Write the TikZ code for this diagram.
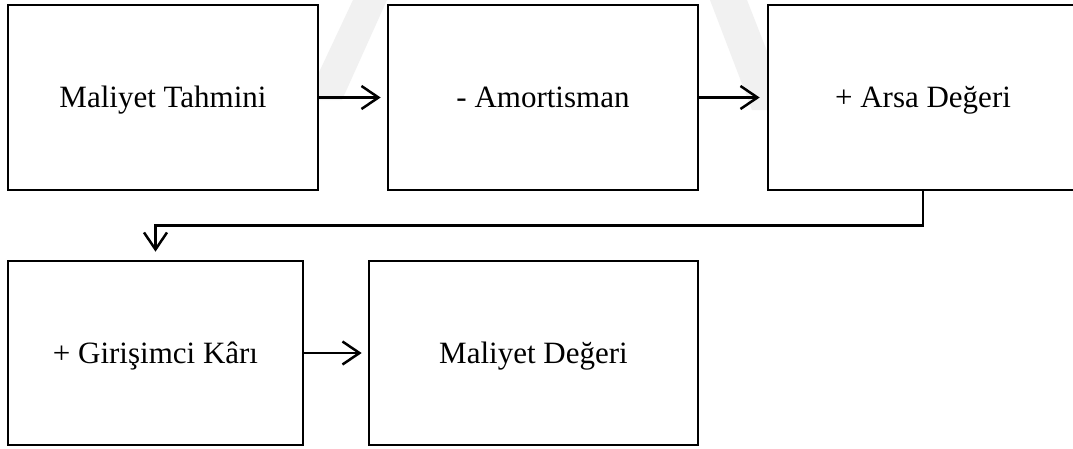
\documentclass[tikz,border=0pt]{standalone}
\usepackage{fontspec}
\setmainfont{Liberation Serif}
\usetikzlibrary{arrows.meta}

\definecolor{wmark}{HTML}{F1F1F1}

\tikzset{
  stepbox/.style={draw=black, fill=white, line width=2.6pt, rectangle,
    inner sep=0pt, text height=20pt, text depth=0pt,
    font=\fontsize{31}{37}\selectfont},
  flow/.style={draw=black, line width=2.5pt,
    -{Straight Barb[length=17pt, width=23pt, line width=2.5pt]}},
}

\begin{document}
\begin{tikzpicture}[x=1pt, y=-1pt]
  \useasboundingbox (0,0) rectangle (1073,448);
  \clip (0,0) rectangle (1073,448);
  \fill[white] (0,0) rectangle (1073,448);

  % faint background emblem strokes
  \fill[wmark] (353,0) -- (387,0) -- (342,100) -- (306,100) -- cycle;
  \fill[wmark] (710,0) -- (747,0) -- (790,110) -- (752,110) -- cycle;

  % process steps
  \node[stepbox, minimum width=310pt, minimum height=185pt] (b1) at (163,97.5) {Maliyet Tahmini};
  \node[stepbox, minimum width=310pt, minimum height=185pt] (b2) at (543,97.5) {- Amortisman};
  \node[stepbox, minimum width=310pt, minimum height=185pt] (b3) at (923,97.5) {+ Arsa Değeri};
  \node[stepbox, minimum width=295pt, minimum height=184pt] (b4) at (155.5,353) {+ Girişimci Kârı};
  \node[stepbox, minimum width=329pt, minimum height=184pt] (b5) at (533.5,353) {Maliyet Değeri};

  % connectors
  \draw[flow, shorten >=6pt] (b1.east) -- (b2.west);
  \draw[flow, shorten >=7pt] (b2.east) -- (b3.west);
  \draw[flow, shorten >=8pt] (b3.south) -- ++(0,34) -| (b4.north);
  \draw[flow, shorten >=6pt] (b4.east) -- (b5.west);
\end{tikzpicture}
\end{document}
